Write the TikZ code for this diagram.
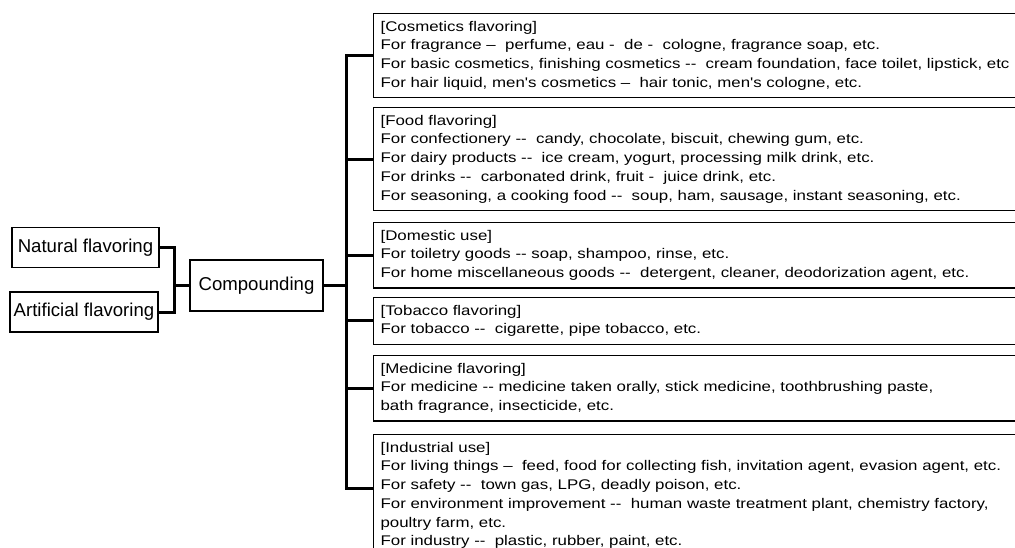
\documentclass[tikz,border=0pt]{standalone}
\usepackage{fontspec}
\setmainfont{Liberation Sans}
\newfontfamily\widesans[FakeStretch=1.205]{Liberation Sans}

\begin{document}
\begin{tikzpicture}[x=1pt, y=-1pt,
    srcbox/.style={draw=black, line width=1.2pt, minimum height=40pt, inner sep=2pt,
      font=\fontsize{18.6}{20}\selectfont},
    usebox/.style={draw=black, line width=1.2pt, anchor=north west, text width=640pt,
      align=left, inner xsep=7pt, inner ysep=7.5pt, font=\widesans\fontsize{14}{18.7}\selectfont},
    link/.style={line width=3pt}]
  \useasboundingbox (0,0) rectangle (1015,547);

  % flavoring sources
  \node[srcbox, minimum width=147pt] (nat) at (85.5,247.5) {Natural flavoring};
  \node[srcbox, minimum width=148pt] (art) at (84,312) {Artificial flavoring};
  \node[srcbox, minimum width=133pt, minimum height=51pt] (comp) at (256.5,285.5) {Compounding};
  \coordinate (join) at (174,0);
  \coordinate (trunk) at (346,0);

  % uses
  \node[usebox] (cosm) at (373,13) {[Cosmetics flavoring]\\
    For fragrance – \ perfume, eau - \ de - \ cologne, fragrance soap, etc.\\
    For basic cosmetics, finishing cosmetics -{}- \ cream foundation, face toilet, lipstick, etc\\
    For hair liquid, men's cosmetics – \ hair tonic, men's cologne, etc.};
  \node[usebox] (food) at (373,107) {[Food flavoring]\\
    For confectionery -{}- \ candy, chocolate, biscuit, chewing gum, etc.\\
    For dairy products -{}- \ ice cream, yogurt, processing milk drink, etc.\\
    For drinks -{}- \ carbonated drink, fruit - \ juice drink, etc.\\
    For seasoning, a cooking food -{}- \ soup, ham, sausage, instant seasoning, etc.};
  \node[usebox] (dom) at (373,222) {[Domestic use]\\
    For toiletry goods -{}- soap, shampoo, rinse, etc.\\
    For home miscellaneous goods -{}- \ detergent, cleaner, deodorization agent, etc.};
  \node[usebox] (tob) at (373,297) {[Tobacco flavoring]\\
    For tobacco -{}- \ cigarette, pipe tobacco, etc.};
  \node[usebox] (med) at (373,355) {[Medicine flavoring]\\
    For medicine -{}- medicine taken orally, stick medicine, toothbrushing paste,\\
    bath fragrance, insecticide, etc.};
  \node[usebox] (ind) at (373,434) {[Industrial use]\\
    For living things – \ feed, food for collecting fish, invitation agent, evasion agent, etc.\\
    For safety -{}- \ town gas, LPG, deadly poison, etc.\\
    For environment improvement -{}- \ human waste treatment plant, chemistry factory,\\
    poultry farm, etc.\\
    For industry -{}- \ plastic, rubber, paint, etc.};
  \coordinate (indjoin) at ([yshift=-54pt]ind.north west);

  % connectors
  \draw[link] (nat.east) -| (join |- art.east) -- (art.east);
  \draw[link] (join |- comp.west) -- (comp.west);
  \draw[link] (comp.east) -- (comp.east -| trunk);
  \draw[link] (cosm.west) -| (indjoin -| trunk) -- (indjoin);
  \foreach \b in {food,dom,tob,med}
    \draw[link] (\b.west -| trunk) -- (\b.west);
\end{tikzpicture}
\end{document}
